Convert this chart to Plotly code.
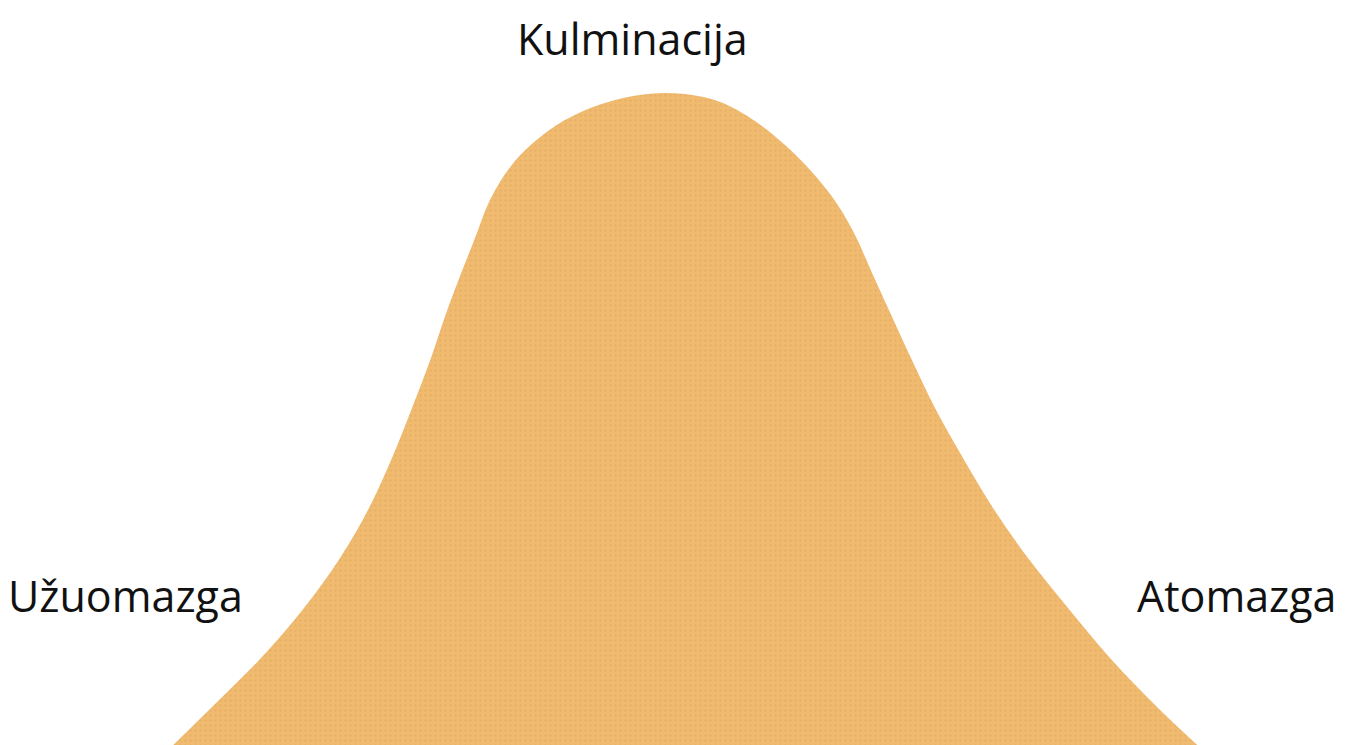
import plotly.graph_objects as go

# Outline of the bell-shaped plot arc (horizontal position, height)
curve_x = [157, 203, 253, 296, 332, 361, 384, 404, 423, 440, 467, 483, 507, 540, 573, 615, 655,
           690, 715, 747, 777, 803, 825, 845, 865, 880, 903, 927, 955, 985, 1020, 1060, 1102, 1150, 1198]
curve_h = [0, 45, 95, 145, 195, 245, 295, 345, 395, 445, 515, 555, 592, 622, 641, 655, 660,
           657, 650, 632, 608, 582, 555, 522, 478, 445, 395, 345, 295, 245, 195, 145, 95, 45, 0]

label_text = ["Kulminacija", "Užuomazga", "Atomazga"]
label_x = [624.5, 117.5, 1228]
label_y = [745, 158, 158]
label_yanchor = ["top", "middle", "middle"]

W, H = 1351, 745
fill_color = "#F0BB6F"

fig = go.Figure()
fig.add_trace(go.Scatter(
    x=curve_x, y=curve_h,
    mode="lines",
    line=dict(color=fill_color, width=0, shape="spline", smoothing=1.0),
    fill="tozeroy",
    fillcolor=fill_color,
    fillpattern=dict(shape=".", fgcolor="#DDA462", bgcolor=fill_color,
                     size=5, solidity=0.18),
    hoverinfo="skip",
    showlegend=False,
))

for t, x, y, ya in zip(label_text, label_x, label_y, label_yanchor):
    fig.add_annotation(x=x, y=y, xref="x", yref="y", text=t, showarrow=False,
                       xanchor="center", yanchor=ya, borderpad=0,
                       font=dict(family="Open Sans", size=43, color="#111111"))

fig.update_layout(
    width=W, height=H,
    margin=dict(l=0, r=0, t=0, b=0),
    paper_bgcolor="white", plot_bgcolor="white",
    xaxis=dict(range=[0, W], visible=False, fixedrange=True),
    yaxis=dict(range=[0, H], visible=False, fixedrange=True),
    showlegend=False,
)

fig.write_html("out.html")
